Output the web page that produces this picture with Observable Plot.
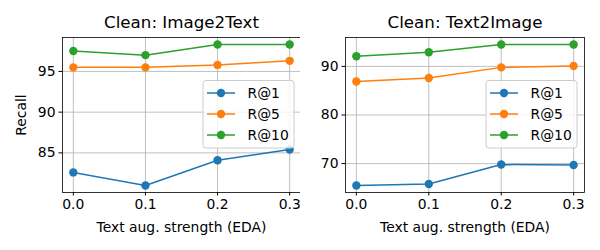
<!DOCTYPE html>
<html>
<head>
<meta charset="utf-8">
<script src="https://cdn.jsdelivr.net/npm/d3@7"></script>
<script src="https://cdn.jsdelivr.net/npm/@observablehq/plot@0.6"></script>
<style>
  body { margin: 0; background: white; }
  #wrap { position: relative; width: 600px; height: 250px; font-family: "DejaVu Sans", sans-serif; }
  .panel { position: absolute; top: 0; }
</style>
</head>
<body>
<div id="wrap">
  <div class="panel" id="p1" style="left:0px"></div>
  <div class="panel" id="p2" style="left:300px"></div>
</div>
<script>
// ---- data ----
const xValues = [0.0, 0.1, 0.2, 0.3];
const xTicks = [0.0, 0.1, 0.2, 0.3];
const seriesNames = ["R@1", "R@5", "R@10"];
const seriesColors = ["#1f77b4", "#ff7f0e", "#2ca02c"];

const i2tR1 = [82.6, 81.0, 84.1, 85.4];
const i2tR5 = [95.5, 95.5, 95.8, 96.3];
const i2tR10 = [97.5, 97.0, 98.3, 98.3];

const t2iR1 = [65.5, 65.8, 69.8, 69.7];
const t2iR5 = [86.9, 87.6, 89.8, 90.1];
const t2iR10 = [92.1, 92.9, 94.5, 94.5];

const i2tTicks = [85, 90, 95];
const t2iTicks = [70, 80, 90];

const titles = ["Clean: Image2Text", "Clean: Text2Image"];
const xLabel = "Text aug. strength (EDA)";
const yLabel = "Recall";

function toRows(seriesArrays) {
  const rows = [];
  seriesArrays.forEach((arr, si) => {
    arr.forEach((v, i) => rows.push({x: xValues[i], y: v, series: seriesNames[si]}));
  });
  return rows;
}

function padded(values, frac) {
  const lo = d3.min(values), hi = d3.max(values);
  const pad = (hi - lo) * frac;
  return [lo - pad, hi + pad];
}

function panel({title, rows, yTicks, showYLabel, marginLeft, marginRight, legendX}) {
  const xd = padded(xValues, 0.05);
  const yd = padded(rows.map(d => d.y), 0.05);
  const marks = [
    Plot.gridX(xTicks, {stroke: "#b0b0b0", strokeOpacity: 1, strokeWidth: 0.8}),
    Plot.gridY(yTicks, {stroke: "#b0b0b0", strokeOpacity: 1, strokeWidth: 0.8}),
    Plot.line(rows, {x: "x", y: "y", z: "series", stroke: "series", strokeWidth: 1.5}),
    Plot.dot(rows, {x: "x", y: "y", fill: "series", r: 4.2, stroke: null}),
    Plot.frame({stroke: "black", strokeWidth: 0.8}),
    Plot.axisX(xTicks, {tickSize: 3.5, tickPadding: 3.5, tickFormat: d3.format(".1f"), label: null, fontSize: 13.9}),
    Plot.axisY(yTicks, {tickSize: 3.5, tickPadding: 3.5, label: null, fontSize: 13.9}),
    Plot.text([title], {frameAnchor: "top", dy: -15, lineAnchor: "middle", fontSize: 16.7, text: d => d}),
    Plot.text([xLabel], {frameAnchor: "bottom", dy: 35, lineAnchor: "middle", fontSize: 13.9, text: d => d})
  ];
  if (showYLabel) {
    marks.push(Plot.text([yLabel], {frameAnchor: "left", dx: -41, rotate: -90, lineAnchor: "middle", textAnchor: "middle", fontSize: 13.9, text: d => d}));
  }
  const svg = Plot.plot({
    width: 300, height: 250,
    marginTop: 37, marginBottom: 58, marginLeft, marginRight,
    style: {fontFamily: "DejaVu Sans", fontSize: "13.9px", color: "black", background: "white", overflow: "visible"},
    x: {domain: xd},
    y: {domain: yd},
    color: {domain: seriesNames, range: seriesColors},
    marks
  });
  // legend
  const g = d3.select(svg).append("g").attr("transform", `translate(${legendX},80.5)`);
  g.append("rect").attr("width", 91).attr("height", 67.5).attr("rx", 3)
    .attr("fill", "white").attr("fill-opacity", 0.8).attr("stroke", "#cccccc").attr("stroke-width", 1);
  seriesNames.forEach((name, i) => {
    const yy = 12.5 + 21 * i;
    g.append("line").attr("x1", 4).attr("x2", 32).attr("y1", yy).attr("y2", yy)
      .attr("stroke", seriesColors[i]).attr("stroke-width", 1.5);
    g.append("circle").attr("cx", 18).attr("cy", yy).attr("r", 4.2).attr("fill", seriesColors[i]);
    g.append("text").attr("x", 44.5).attr("y", yy).attr("dy", "0.35em")
      .attr("text-anchor", "start")
      .attr("font-size", 13.9).attr("font-family", "DejaVu Sans").attr("fill", "black").text(name);
  });
  return svg;
}

document.getElementById("p1").appendChild(panel({
  title: titles[0], rows: toRows([i2tR1, i2tR5, i2tR10]), yTicks: i2tTicks,
  showYLabel: true, marginLeft: 62, marginRight: 0, legendX: 203
}));
document.getElementById("p2").appendChild(panel({
  title: titles[1], rows: toRows([t2iR1, t2iR5, t2iR10]), yTicks: t2iTicks,
  showYLabel: false, marginLeft: 45, marginRight: 16, legendX: 186
}));
</script>
</body>
</html>
